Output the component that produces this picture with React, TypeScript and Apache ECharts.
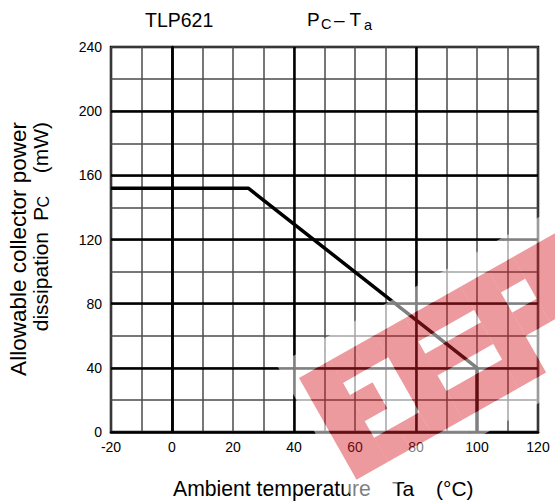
import React, { useEffect, useRef } from "react";
import * as echarts from "echarts";

// ---- data ----
const tempC = [-20, 25, 100, 100];
const powerMW = [152, 152, 40, 0];
const majorX = [0, 40, 80];
const majorY = [40, 80, 120, 160, 200];
const xLabelStep = 20;
const yLabelStep = 40;

// watermark logo (local frame strips: u0, u1, red v-intervals)
const WM_STRIPS: [number, number, [number, number][]][] = [
  [-13, 0, []],
  [0, 36, [[0, 117]]],
  [36, 62, [[0, 26], [40, 70], [89, 117]]],
  [62, 88, [[0, 26], [89, 117]]],
  [88, 122, [[0, 117]]],
  [122, 186, [[0, 27], [41, 66], [84, 117]]],
  [186, 218, [[0, 117]]],
  [218, 246, [[0, 25], [48, 75]]],
  [246, 330, [[0, 75]]],
];

const FONT = '"Liberation Sans", Arial, Helvetica, sans-serif';

function watermarkChildren() {
  const out: any[] = [];
  const V0 = -22, V1 = 140;
  const red = "rgba(215,30,40,0.45)";
  const white = "rgba(255,255,255,0.5)";
  for (const [u0, u1, reds] of WM_STRIPS) {
    let cur = V0;
    for (const [a, b] of reds) {
      if (a > cur) out.push({ type: "rect", shape: { x: u0, y: cur, width: u1 - u0, height: a - cur }, style: { fill: white }, z: 100 });
      out.push({ type: "rect", shape: { x: u0, y: a, width: u1 - u0, height: b - a }, style: { fill: red }, z: 100 });
      cur = b;
    }
    if (cur < V1) out.push({ type: "rect", shape: { x: u0, y: cur, width: u1 - u0, height: V1 - cur }, style: { fill: white }, z: 100 });
  }
  return out;
}

function txt(text: string, x: number, y: number, size: number, extra: any = {}) {
  return {
    type: "text",
    x,
    y,
    z: 50,
    silent: true,
    ...extra,
    style: { text, fontSize: size, fontFamily: FONT, fill: "#000", verticalAlign: "middle", align: "left", ...(extra.style || {}) },
  };
}

export default function App() {
  const ref = useRef<HTMLDivElement>(null);
  useEffect(() => {
    if (!ref.current) return;
    const chart = echarts.init(ref.current, undefined, { renderer: "svg" });
    const rot = { rotation: Math.PI / 2 };
    const option: any = {
      animation: false,
      backgroundColor: "#fff",
      grid: { left: 111, right: 17, top: 47, bottom: 72, show: true, borderColor: "#000", borderWidth: 2.5 },
      xAxis: {
        type: "value",
        min: -20,
        max: 120,
        interval: 10,
        axisLine: { show: true, onZero: false, lineStyle: { color: "#000", width: 2.5 } },
        axisTick: { show: false },
        axisLabel: {
          color: "#000",
          fontSize: 14,
          fontFamily: FONT,
          margin: 8,
          formatter: (v: number) => (v % xLabelStep === 0 ? String(v) : ""),
        },
        splitLine: { show: true, lineStyle: { color: "#4a4a4a", width: 1.5 } },
      },
      yAxis: {
        type: "value",
        min: 0,
        max: 240,
        interval: 20,
        axisLine: { show: true, lineStyle: { color: "#000", width: 2.5 } },
        axisTick: { show: false },
        axisLabel: {
          color: "#000",
          fontSize: 14,
          fontFamily: FONT,
          margin: 9,
          formatter: (v: number) => (v % yLabelStep === 0 ? String(v) : ""),
        },
        splitLine: { show: true, lineStyle: { color: "#4a4a4a", width: 1.5 } },
      },
      series: [
        {
          type: "line",
          data: tempC.map((t, i) => [t, powerMW[i]]),
          symbol: "none",
          lineStyle: { color: "#000", width: 3.5 },
          z: 5,
          markLine: {
            silent: true,
            symbol: ["none", "none"],
            label: { show: false },
            lineStyle: { color: "#000", width: 2.5, type: "solid" },
            data: [...majorX.map((x) => ({ xAxis: x })), ...majorY.map((y) => ({ yAxis: y }))],
          },
        },
      ],
      graphic: [
        txt("TLP621", 145, 19.5, 19.5),
        txt("P", 307, 19.5, 19),
        txt("C", 321, 24, 14.5),
        txt("– T", 334, 19.5, 19),
        txt("a", 364, 25, 14.5),
        txt("Ambient temperature", 173, 488, 21.2),
        txt("Ta", 392, 488, 21),
        txt("(°C)", 436, 488, 21),
        txt("Allowable collector power", 18, 122, 22.5, { ...rot, style: { align: "right" } }),
        txt("(mW)", 40, 122, 21, { ...rot, style: { align: "right" } }),
        txt("C", 43, 196, 16, { ...rot, style: { align: "right" } }),
        txt("P", 40, 207, 21, { ...rot, style: { align: "right" } }),
        txt("dissipation", 40, 232, 21, { ...rot, style: { align: "right" } }),
        {
          type: "group",
          x: 299,
          y: 378,
          rotation: (29.5 * Math.PI) / 180,
          z: 100,
          silent: true,
          children: watermarkChildren(),
        },
      ],
    };
    chart.setOption(option);
    return () => chart.dispose();
  }, []);
  return <div ref={ref} style={{ position: "fixed", left: 0, top: 0, width: 555, height: 504 }} />;
}
